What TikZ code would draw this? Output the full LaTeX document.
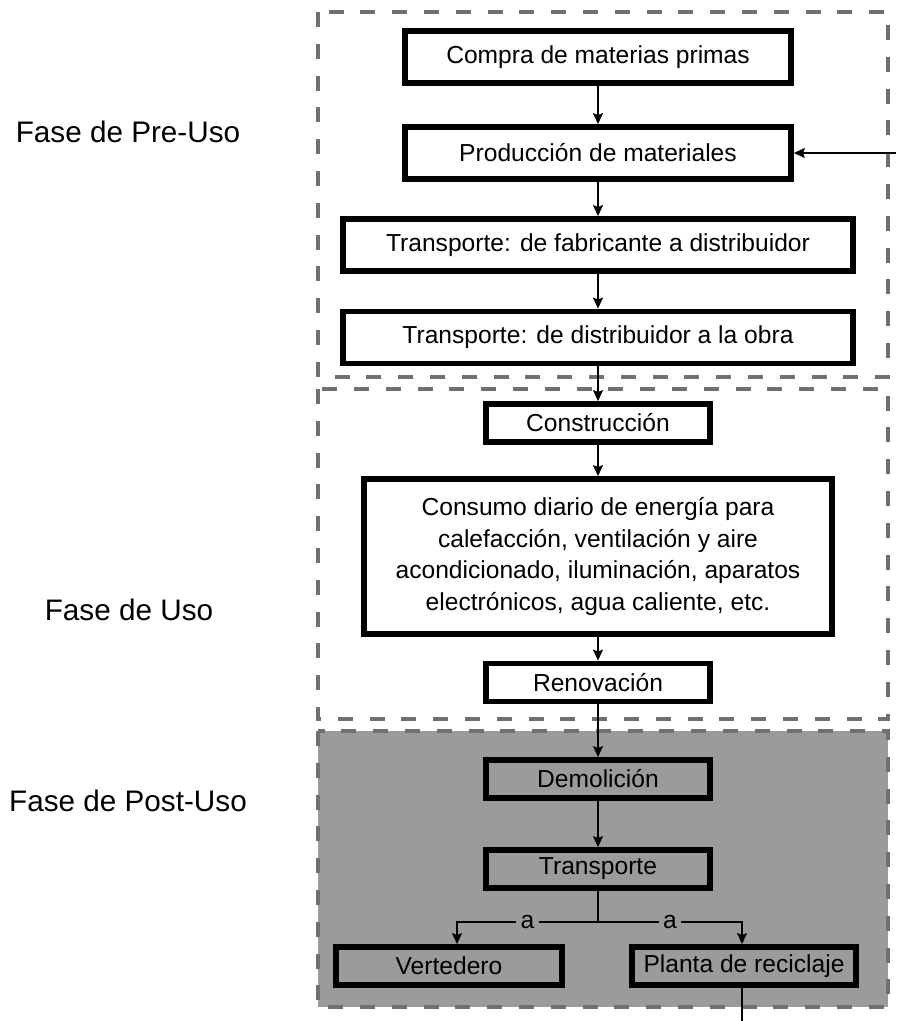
\documentclass[tikz,border=0pt]{standalone}
\usepackage{fontspec}
\setmainfont{Liberation Sans}
\usetikzlibrary{arrows.meta}
\definecolor{phaseline}{RGB}{112,112,112}
\definecolor{postfill}{RGB}{155,155,155}
\begin{document}
\begin{tikzpicture}[x=0.02cm,y=-0.02cm,
  stepbox/.style={draw=black,line width=3.3pt,inner sep=0pt,align=center,
    font=\fontsize{14}{18}\selectfont},
  wide/.style={stepbox,minimum width=7.72cm,minimum height=1.04cm},
  wider/.style={stepbox,minimum width=10.2cm,minimum height=1.04cm},
  small/.style={stepbox,minimum width=4.48cm,minimum height=0.76cm},
  phasebox/.style={draw=phaseline,line width=2pt,dash pattern=on 8.5pt off 9.6pt},
  phase/.style={anchor=base,inner sep=0pt,font=\fontsize{16.9}{20}\selectfont},
  arr/.style={line width=1.1pt,-{Stealth[length=6.2pt,width=5.6pt,inset=1pt]}},
  link/.style={line width=1.1pt},
  lbl/.style={fill=postfill,inner xsep=2.5pt,inner ysep=0pt,
    font=\fontsize{14}{18}\selectfont}]
\useasboundingbox (0,0) rectangle (896,1021);

% phase frames
\fill[postfill] (318,731) rectangle (888,1007);
\draw[phasebox] (318,12) rectangle (888,377);
\draw[phasebox] (318,389) rectangle (888,719);
\draw[phasebox] (318,731) rectangle (888,1007);

% phase titles
\node[phase] (tpre)  at (128,142) {Fase de Pre-Uso};
\node[phase] (tuso)  at (129,620) {Fase de Uso};
\node[phase] (tpost) at (128,811) {Fase de Post-Uso};

% steps
\node[wide]  (compra) at (598,57)    {Compra de materias primas};
\node[wide]  (prod)   at (598,153)   {Producción de materiales};
\node[wider] (tfab)   at (598,245)   {Transporte: de fabricante a distribuidor};
\node[wider] (tdist)  at (598,337.5) {Transporte: de distribuidor a la obra};
\node[small] (constr) at (598,423)   {Construcción};
\node[stepbox,minimum width=9.36cm,minimum height=3.1cm] (consumo) at (598,556.5)
  {Consumo diario de energía para\\calefacción, ventilación y aire\\acondicionado, iluminación, aparatos\\electrónicos, agua caliente, etc.};
\node[small] (renov)  at (598,682.5) {Renovación};
\node[small] (demol)  at (598,779)   {Demolición};
\node[small] (transp) at (598,869)   {Transporte};
\node[stepbox,minimum width=4.52cm,minimum height=0.76cm] (verted) at (449,966) {Vertedero};
\node[small] (planta) at (744,966)   {Planta de reciclaje};

% flow
\draw[arr] (compra) -- (prod);
\draw[arr] (prod) -- (tfab);
\draw[arr] (tfab) -- (tdist);
\draw[arr] (tdist) -- (constr);
\draw[arr] (constr) -- (consumo);
\draw[arr] (consumo) -- (renov);
\draw[arr] (renov) -- (demol);
\draw[arr] (demol) -- (transp);

\coordinate (split) at (598,922);
\draw[link] (transp) -- (split);
\draw[arr] (split) -| node[lbl,pos=0.25] {a} ([xshift=0.16cm]verted.north);
\draw[arr] (split) -| node[lbl,pos=0.25] {a} ([xshift=-0.04cm]planta.north);

% recycling loop back into production
\coordinate (loopin) at (896,153);
\coordinate (loopout) at (742,1021);
\draw[link] ([xshift=-0.04cm]planta.south) -- (loopout);
\draw[arr] (loopin) -- (prod);
\end{tikzpicture}
\end{document}
